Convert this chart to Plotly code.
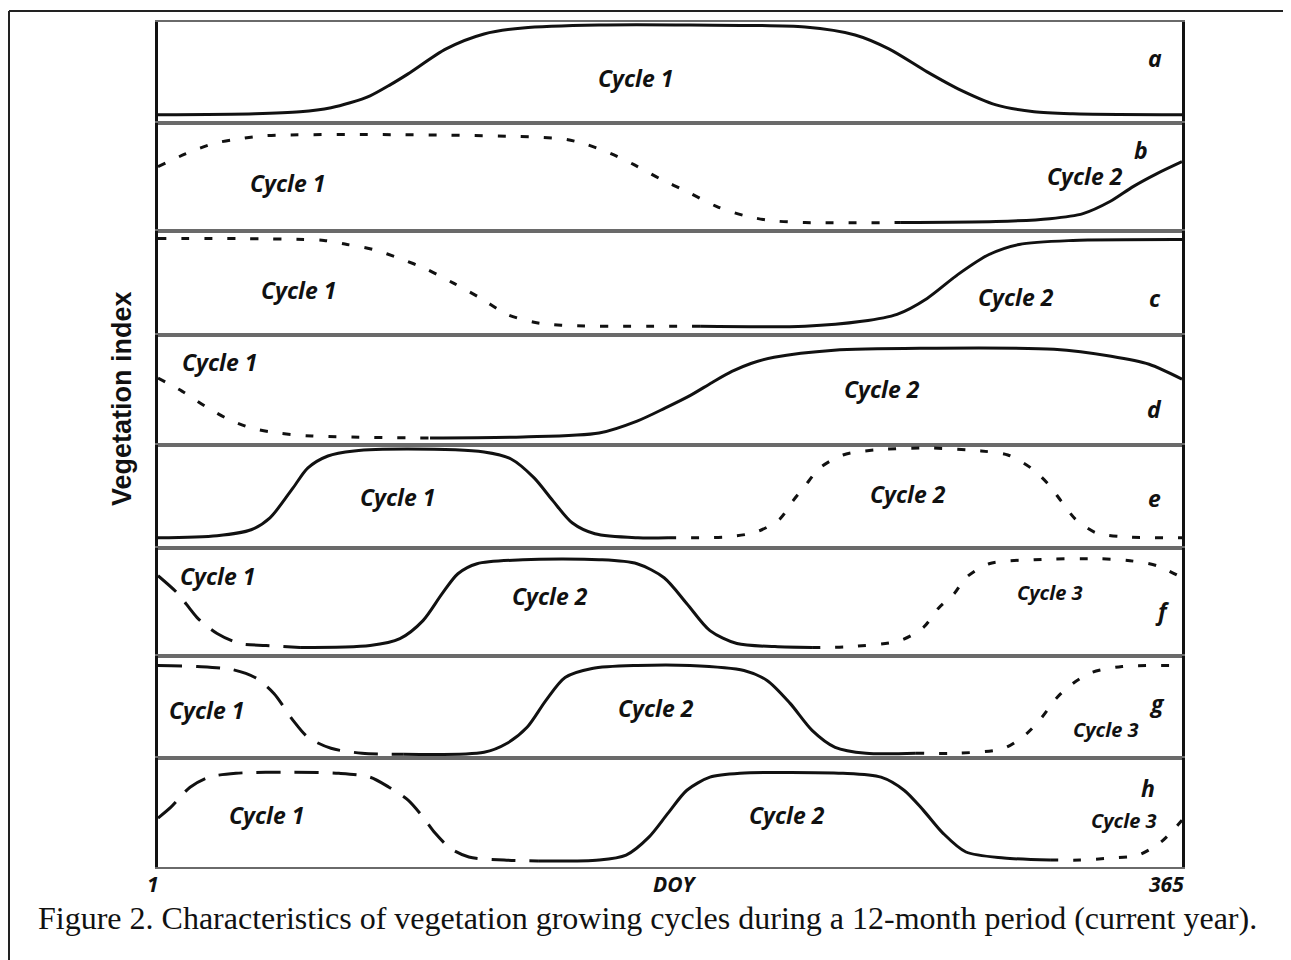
import plotly.graph_objects as go
from plotly.subplots import make_subplots

# ---------------- data (DOY vs. relative vegetation index per panel) ----------------
a_doy = [1, 35.5, 51.5, 62.5, 69.3, 76.4, 83.5, 89.9, 103.4, 116.9, 130.7, 157.8, 190.1, 231, 248.8, 260.8, 274.4, 285.4, 298.9, 312.4, 326.2, 365]
a_val = [0.079, 0.089, 0.109, 0.149, 0.198, 0.267, 0.376, 0.485, 0.733, 0.881, 0.941, 0.970, 0.970, 0.950, 0.871, 0.733, 0.505, 0.337, 0.178, 0.109, 0.089, 0.079]

b1_doy = [1, 10.95, 20.55, 30.1, 39.4, 87, 144.3, 152.4, 162, 170.2, 179.4, 189, 199.7, 209.3, 218.5, 231, 264.8]
b1_val = [0.593, 0.713, 0.806, 0.852, 0.880, 0.889, 0.852, 0.806, 0.713, 0.611, 0.481, 0.361, 0.222, 0.139, 0.093, 0.074, 0.074]
b2_doy = [264.8, 298.9, 318, 329.8, 339.4, 347.6, 356.1, 365]
b2_val = [0.074, 0.083, 0.110, 0.157, 0.269, 0.407, 0.528, 0.639]

c1_doy = [1, 60, 68.2, 77.4, 87, 96.6, 106.2, 115.8, 125, 134.7, 144.3, 193.7]
c1_val = [0.924, 0.905, 0.867, 0.819, 0.733, 0.629, 0.495, 0.352, 0.200, 0.124, 0.095, 0.086]
c2_doy = [193.7, 231, 251.2, 263.7, 274.4, 285.4, 296.4, 307.1, 326.2, 365]
c2_val = [0.086, 0.086, 0.133, 0.200, 0.352, 0.581, 0.771, 0.867, 0.905, 0.914]

d1_doy = [1, 9.5, 17.7, 25.9, 34.1, 43.7, 55.7, 97.7]
d1_val = [0.609, 0.491, 0.355, 0.236, 0.155, 0.109, 0.082, 0.064]
d2_doy = [97.7, 130.7, 157.8, 171.3, 181.2, 190.1, 198, 205, 212, 220, 241.3, 271.9, 319.5, 339.8, 353.3, 365]
d2_val = [0.064, 0.073, 0.109, 0.218, 0.336, 0.450, 0.570, 0.670, 0.745, 0.800, 0.864, 0.882, 0.873, 0.809, 0.736, 0.600]

e1_doy = [1, 22, 34.1, 40.8, 49, 54.3, 61.4, 70.7, 89.9, 116.9, 126.5, 134.7, 141.4, 148.2, 156.3, 171.6, 182.3]
e1_val = [0.097, 0.117, 0.175, 0.291, 0.583, 0.777, 0.893, 0.942, 0.961, 0.932, 0.864, 0.680, 0.456, 0.243, 0.136, 0.097, 0.097]
e2_doy = [182.3, 203.6, 213.9, 222.1, 226.7, 231, 236.3, 244.5, 255.5, 274.4, 293.6, 303.1, 311.3, 317.4, 322, 327, 334.4, 343.7, 365]
e2_val = [0.097, 0.107, 0.155, 0.282, 0.456, 0.602, 0.777, 0.903, 0.951, 0.971, 0.942, 0.903, 0.777, 0.621, 0.456, 0.282, 0.146, 0.107, 0.097]

f1_doy = [1, 8.1, 14.9, 22, 30.1, 39.4, 51.5]
f1_val = [0.741, 0.574, 0.352, 0.204, 0.111, 0.093, 0.074]
f2_doy = [51.5, 76.4, 87, 95.2, 102, 107.6, 114.4, 130.7, 157.8, 171.3, 180.9, 189, 197.2, 206.8, 220.3, 233.5]
f2_val = [0.074, 0.093, 0.157, 0.324, 0.574, 0.759, 0.852, 0.889, 0.889, 0.852, 0.722, 0.481, 0.231, 0.111, 0.083, 0.074]
f3_doy = [233.5, 247.3, 264.8, 273, 278.6, 284, 288.2, 296.4, 312.4, 335.5, 346.5, 356.1, 365]
f3_val = [0.074, 0.083, 0.139, 0.259, 0.444, 0.574, 0.722, 0.852, 0.889, 0.898, 0.880, 0.833, 0.722]

g1_doy = [1, 14.9, 27.3, 35.5, 42.2, 49, 54.3, 62.5, 73.5, 88.4]
g1_val = [0.903, 0.893, 0.864, 0.786, 0.631, 0.369, 0.204, 0.097, 0.049, 0.039]
g2_doy = [88.4, 116.9, 125.1, 132.2, 138.9, 145.7, 155.3, 171.3, 190.1, 209.3, 217.5, 225.7, 233.5, 241.7, 252.7, 270.4]
g2_val = [0.039, 0.058, 0.146, 0.301, 0.563, 0.786, 0.874, 0.903, 0.903, 0.854, 0.757, 0.534, 0.272, 0.107, 0.049, 0.049]
g3_doy = [270.4, 285.4, 301.7, 309.9, 315.2, 320.6, 326.2, 333, 343.7, 365]
g3_val = [0.049, 0.049, 0.097, 0.243, 0.398, 0.592, 0.728, 0.835, 0.893, 0.903]

h1_doy = [1, 5.6, 12.4, 19.1, 28.7, 49, 65.3, 76.4, 83.1, 89.9, 95.2, 99.5, 104.8, 111.5, 124, 136.1]
h1_val = [0.450, 0.550, 0.734, 0.826, 0.862, 0.872, 0.862, 0.826, 0.734, 0.615, 0.459, 0.312, 0.174, 0.092, 0.064, 0.055]
h2_doy = [136.1, 157.8, 167.4, 175.5, 182.3, 189, 197.2, 207.9, 244.5, 258, 266.2, 273, 280, 288.2, 301.7, 318.1]
h2_val = [0.055, 0.064, 0.110, 0.275, 0.495, 0.706, 0.826, 0.862, 0.862, 0.826, 0.706, 0.523, 0.312, 0.138, 0.083, 0.064]
h3_doy = [318.1, 328.7, 339.8, 349.4, 357.5, 365]
h3_val = [0.064, 0.064, 0.083, 0.110, 0.229, 0.430]

panel_letters = ["a", "b", "c", "d", "e", "f", "g", "h"]
x_tick_labels = ["1", "DOY", "365"]
y_title = "Vegetation index"
caption = "Figure 2. Characteristics of vegetation growing cycles during a 12-month period (current year)."

# ---------------- styles ----------------
SOLID = "solid"
DOT = "8px,15px"
LDASH = "24px,14px"

series = [
    (1, a_doy, a_val, SOLID),
    (2, b1_doy, b1_val, DOT), (2, b2_doy, b2_val, SOLID),
    (3, c1_doy, c1_val, DOT), (3, c2_doy, c2_val, SOLID),
    (4, d1_doy, d1_val, DOT), (4, d2_doy, d2_val, SOLID),
    (5, e1_doy, e1_val, SOLID), (5, e2_doy, e2_val, DOT),
    (6, f1_doy, f1_val, LDASH), (6, f2_doy, f2_val, SOLID), (6, f3_doy, f3_val, DOT),
    (7, g1_doy, g1_val, LDASH), (7, g2_doy, g2_val, SOLID), (7, g3_doy, g3_val, DOT),
    (8, h1_doy, h1_val, LDASH), (8, h2_doy, h2_val, SOLID), (8, h3_doy, h3_val, DOT),
]

row_px = [101, 108, 105, 110, 103, 108, 103, 109]
tot = sum(row_px)

fig = make_subplots(rows=8, cols=1, shared_xaxes=True, vertical_spacing=0,
                    row_heights=[r / tot for r in row_px])

for row, xs, ys, dash in series:
    fig.add_trace(go.Scatter(x=xs, y=ys, mode="lines",
                             line=dict(color="#111111", width=3, dash=dash,
                                       shape="spline", smoothing=0.8),
                             showlegend=False, hoverinfo="skip"),
                  row=row, col=1)

fig.update_xaxes(range=[1, 365], showticklabels=False, showgrid=False, zeroline=False,
                 showline=True, mirror=True, linecolor="#6a6a6a", linewidth=2, ticks="")
fig.update_yaxes(range=[0, 1], showticklabels=False, showgrid=False, zeroline=False,
                 showline=True, mirror=True, linecolor="#111111", linewidth=3, ticks="")

FAM = "'Open Sans', Lato, sans-serif"
LBL = dict(family=FAM, size=23, color="#111111", weight="bold", style="italic")
LBL_S = dict(LBL, size=20)

labels = [
    (1, "Cycle 1", 170.6, 0.446, LBL),
    (2, "Cycle 1", 46.9, 0.444, LBL), (2, "Cycle 2", 330.5, 0.509, LBL),
    (3, "Cycle 1", 51.1, 0.429, LBL), (3, "Cycle 2", 306.0, 0.362, LBL),
    (4, "Cycle 1", 22.7, 0.755, LBL), (4, "Cycle 2", 258.4, 0.509, LBL),
    (5, "Cycle 1", 86.0, 0.495, LBL), (5, "Cycle 2", 267.6, 0.524, LBL),
    (6, "Cycle 1", 22.0, 0.741, LBL), (6, "Cycle 2", 140.3, 0.556, LBL), (6, "Cycle 3", 318.1, 0.583, LBL_S),
    (7, "Cycle 1", 18.4, 0.466, LBL), (7, "Cycle 2", 178.0, 0.485, LBL), (7, "Cycle 3", 338.0, 0.282, LBL_S),
    (8, "Cycle 1", 39.7, 0.477, LBL), (8, "Cycle 2", 224.6, 0.477, LBL), (8, "Cycle 3", 344.4, 0.431, LBL_S),
]
for row, txt, x, y, f in labels:
    fig.add_annotation(x=x, y=y, text=txt, showarrow=False, font=f,
                       xanchor="center", yanchor="middle", row=row, col=1)

letter_pos = [(355.4, 0.644), (350.4, 0.75), (355.4, 0.352), (355.4, 0.327),
              (355.4, 0.485), (358.2, 0.417), (356.1, 0.534), (352.9, 0.725)]
for i, (ltr, (x, y)) in enumerate(zip(panel_letters, letter_pos)):
    fig.add_annotation(x=x, y=y, text=ltr, showarrow=False, font=dict(LBL, size=23),
                       xanchor="center", yanchor="middle", row=i + 1, col=1)

# x tick labels (paper coords: page_x -> (page_x - 158) / 1024)
TK = dict(family=FAM, size=21, color="#111111", weight="bold", style="italic")
for txt, px in zip(x_tick_labels, [153, 675, 1166]):
    fig.add_annotation(x=(px - 158) / 1024, xref="paper", y=(867 - 884) / 847, yref="paper",
                       text=txt, showarrow=False, font=TK, xanchor="center", yanchor="middle")

# y title
fig.add_annotation(x=(122 - 158) / 1024, y=(867 - 398) / 847, xref="paper", yref="paper",
                   text=y_title, textangle=-90, showarrow=False,
                   xanchor="center", yanchor="middle",
                   font=dict(family="'Liberation Sans', Arial, sans-serif", size=27,
                             color="#111111", weight="bold"))

# caption
fig.add_annotation(x=(647.5 - 158) / 1024, y=(867 - 918) / 847, xref="paper", yref="paper",
                   text=caption, showarrow=False, xanchor="center", yanchor="middle",
                   font=dict(family="'Liberation Serif', 'Times New Roman', serif", size=32,
                             color="#111111"))

# outer frame (left/top dark, right light)
fig.add_shape(type="line", xref="paper", yref="paper",
              x0=(9 - 158) / 1024, x1=(9 - 158) / 1024, y0=(867 - 9) / 847, y1=(867 - 975) / 847,
              line=dict(color="#222222", width=2))
fig.add_shape(type="line", xref="paper", yref="paper",
              x0=(9 - 158) / 1024, x1=(1289 - 158) / 1024, y0=(867 - 9) / 847, y1=(867 - 9) / 847,
              line=dict(color="#222222", width=2))
fig.add_shape(type="line", xref="paper", yref="paper",
              x0=(1289 - 158) / 1024, x1=(1289 - 158) / 1024, y0=(867 - 9) / 847, y1=(867 - 975) / 847,
              line=dict(color="#cccccc", width=2))

# page has an 8px body margin: figure is 8px smaller and shifted accordingly
fig.update_layout(width=1283, height=952, paper_bgcolor="white", plot_bgcolor="white",
                  margin=dict(l=150, r=109, t=12, b=93), showlegend=False)

fig.write_html("out.html")
